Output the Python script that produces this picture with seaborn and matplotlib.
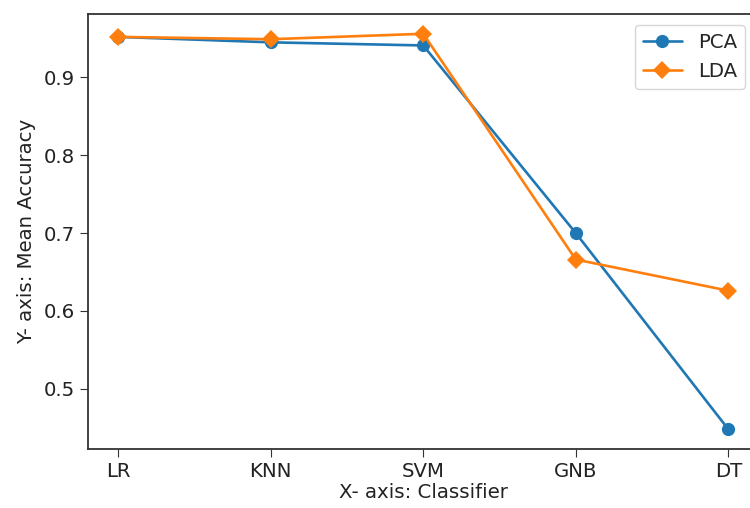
import pandas as pd
import matplotlib
matplotlib.use("Agg")
import matplotlib.pyplot as plt
import seaborn as sns

# ======================================================
# DATA
# ======================================================
classifiers = ["LR", "KNN", "SVM", "GNB", "DT"]
pca_acc = [0.952, 0.945, 0.941, 0.700, 0.448]
lda_acc = [0.952, 0.949, 0.956, 0.666, 0.626]

df = pd.DataFrame({
    "Classifier": classifiers * 2,
    "Accuracy": pca_acc + lda_acc,
    "Method": ["PCA"] * len(classifiers) + ["LDA"] * len(classifiers),
})

# ======================================================
# PLOT
# ======================================================
sns.set_style("ticks")
plt.rcParams["font.family"] = ["DejaVu Sans"]
plt.rcParams["font.size"] = 14.2
plt.rcParams["axes.edgecolor"] = "#333333"
plt.rcParams["axes.linewidth"] = 1.3
plt.rcParams["xtick.major.size"] = 5.5
plt.rcParams["ytick.major.size"] = 5.5
plt.rcParams["xtick.color"] = "#333333"
plt.rcParams["ytick.color"] = "#333333"

fig = plt.figure(figsize=(7.5, 5.08), dpi=100)
ax = fig.add_axes([87.7 / 750, (508 - 449) / 508, (758.8 - 87.7) / 750, (449 - 14) / 508])

sns.lineplot(
    data=df, x="Classifier", y="Accuracy", hue="Method", style="Method",
    markers=["o", "D"], dashes=False, sort=False,
    palette=["#1f77b4", "#ff7f0e"], linewidth=1.9, markersize=9.5,
    markeredgewidth=0, ax=ax,
)

ax.set_xlabel("X- axis: Classifier", color="#222222", labelpad=1)
ax.set_ylabel("Y- axis: Mean Accuracy", color="#222222", labelpad=5)
ax.set_yticks([0.5, 0.6, 0.7, 0.8, 0.9])
ax.tick_params(labelcolor="#222222", pad=4)

handles, labels = ax.get_legend_handles_labels()
ax.legend(
    handles, labels, loc="upper right",
    bbox_to_anchor=(745 / 750, 1 - 25 / 508), bbox_transform=fig.transFigure,
    borderaxespad=0, frameon=True, fontsize=14.2,
)

fig.savefig("out.png", dpi=100)
plt.close(fig)
